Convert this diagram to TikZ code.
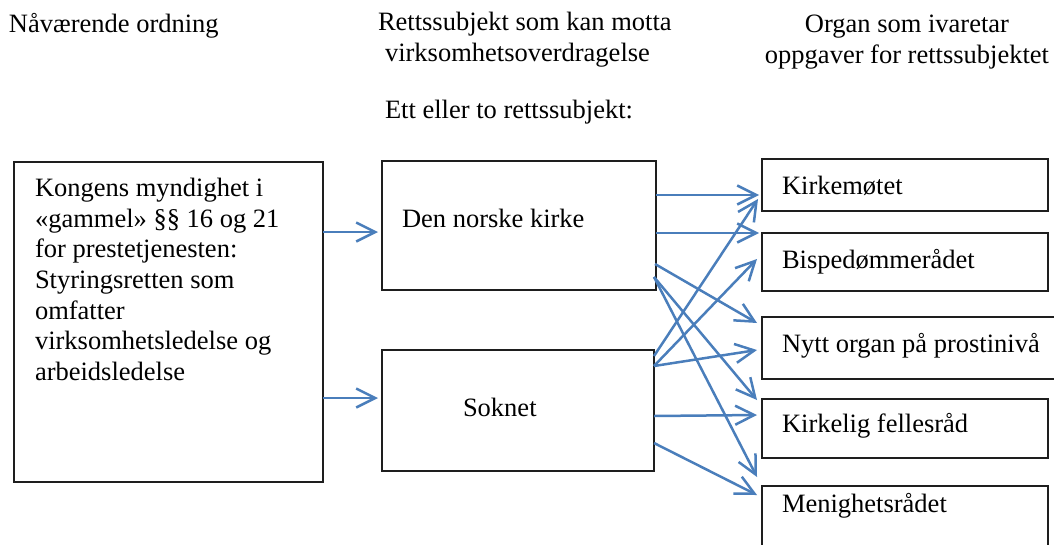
\documentclass[tikz,border=0pt]{standalone}
\usepackage{fontspec}
\setmainfont{Liberation Serif}
\usetikzlibrary{arrows.meta,calc}
\definecolor{arrblue}{RGB}{74,126,187}
\definecolor{boxline}{RGB}{30,30,30}
\begin{document}
\begin{tikzpicture}[x=1pt,y=-1pt,
  every node/.style={inner sep=0pt, outer sep=0pt},
  txt/.style={font=\fontsize{26.5}{30.7}\selectfont, anchor=base west},
  mtxt/.style={font=\fontsize{26.5}{30.7}\selectfont, anchor=north west, align=left},
  bx/.style={draw=boxline, line width=1.5pt, rectangle, anchor=north west},
  arr/.style={draw=arrblue, line width=2.5pt, -{Straight Barb[length=19pt,width=19pt,line width=2.5pt]}}
]
\useasboundingbox (0,0) rectangle (1054,544);
% headings
\node[txt] (h1) at (9,32) {Nåværende ordning};
\node[mtxt] (h2) at (378,12) {Rettssubjekt som kan motta\\\hspace*{7pt}virksomhetsoverdragelse};
\node[font=\fontsize{26.5}{30.7}\selectfont, anchor=north, align=center] (h3) at (907,15) {Organ som ivaretar\\oppgaver for rettssubjektet};
\node[txt] (h4) at (385,118) {Ett eller to rettssubjekt:};
% boxes
\node[bx, minimum width=309pt, minimum height=320pt] (lb) at (14,162) {};
\node[bx, minimum width=274pt, minimum height=129pt] (dnk) at (382,161) {};
\node[bx, minimum width=272pt, minimum height=121pt] (sok) at (382,350) {};
\node[bx, minimum width=286pt, minimum height=52pt] (km) at (762,159) {};
\node[bx, minimum width=286pt, minimum height=58pt] (bd) at (762,233) {};
\node[bx, minimum width=310pt, minimum height=62pt] (ny) at (762,317) {};
\node[bx, minimum width=286pt, minimum height=59pt] (kf) at (762,399) {};
\node[bx, minimum width=286pt, minimum height=80pt] (mr) at (762,486) {};
% box texts
\node[mtxt] (lbt) at (35,178) {Kongens myndighet i\\«gammel» §§ 16 og 21\\for prestetjenesten:\\Styringsretten som\\omfatter\\virksomhetsledelse og\\arbeidsledelse};
\node[txt] (dnkt) at (402,227) {Den norske kirke};
\node[txt] (sokt) at (463,416) {Soknet};
\node[txt] (kmt) at (782,194) {Kirkemøtet};
\node[txt] (bdt) at (782,268) {Bispedømmerådet};
\node[txt] (nyt) at (782,352) {Nytt organ på prostinivå};
\node[txt] (kft) at (782,432) {Kirkelig fellesråd};
\node[txt] (mrt) at (782,512) {Menighetsrådet};
% connectors
\draw[arr] ($(lb.north east)+(0,70)$) -- ($(dnk.north west)+(-4,71)$);
\draw[arr] ($(lb.north east)+(0,236)$) -- ($(sok.north west)+(-4,48)$);
\draw[arr] ($(dnk.north east)+(0,34)$) -- ($(km.north west)+(-3,36)$);
\draw[arr] ($(dnk.north east)+(0,72)$) -- ($(bd.north west)+(-3,0)$);
\draw[arr] ($(dnk.north east)+(-1,103)$) -- ($(bd.south west)+(-5,32)$);
\draw[arr] ($(dnk.north east)+(-2,116)$) -- ($(kf.north west)+(-5,1)$);
\draw[arr] ($(dnk.north east)+(-2,116)$) -- ($(mr.north west)+(-5,-9)$);
\draw[arr] ($(sok.north east)+(0,6)$) -- ($(km.north west)+(-4,40)$);
\draw[arr] ($(sok.north east)+(0,16)$) -- ($(bd.north west)+(-5,26)$);
\draw[arr] ($(sok.north east)+(0,16)$) -- ($(ny.north west)+(-5,33)$);
\draw[arr] ($(sok.north east)+(0,66)$) -- ($(kf.north west)+(-5,16)$);
\draw[arr] ($(sok.north east)+(0,93)$) -- ($(mr.north west)+(-5,9)$);
\end{tikzpicture}
\end{document}
